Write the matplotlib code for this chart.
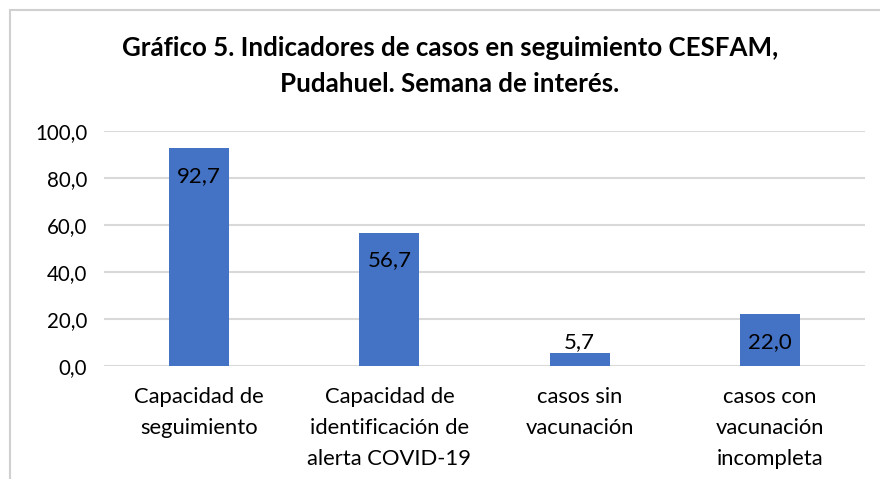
import matplotlib
matplotlib.use("Agg")
import matplotlib.pyplot as plt
from matplotlib.patches import Rectangle

categories = ["Capacidad de\nseguimiento",
              "Capacidad de\nidentificación de\nalerta COVID-19",
              "casos sin\nvacunación",
              "casos con\nvacunación\nincompleta"]
values = [92.7, 56.7, 5.7, 22.0]
yticks = [0, 20, 40, 60, 80, 100]
title = "Gráfico 5. Indicadores de casos en seguimiento CESFAM,\nPudahuel. Semana de interés."

plt.rcParams['font.family'] = ['Lato', 'DejaVu Sans']

fig = plt.figure(figsize=(8.8, 4.79), dpi=100)
ax = fig.add_axes([104/880, 1-366/479, (865-104)/880, (366-131)/479])

x = list(range(len(values)))
bars = ax.bar(x, values, width=0.316, color="#4472C4", zorder=3)

ax.set_xlim(-0.5, len(values)-0.5)
ax.set_ylim(0, 100)
ax.set_yticks(yticks)
ax.set_yticklabels([f"{v:.1f}".replace(".", ",") for v in yticks], fontsize=14.8, color="#000000")
ax.set_xticks(x)
ax.set_xticklabels(categories, fontsize=15.8, linespacing=1.7, va="top")
ax.tick_params(axis='both', length=0)
ax.tick_params(axis='x', pad=15)
ax.tick_params(axis='y', pad=12)
ax.grid(axis='y', color="#d9d9d9", linewidth=1.5, zorder=0)
for s in ax.spines.values():
    s.set_visible(False)

for xi, v in zip(x, values):
    lab = f"{v:.1f}".replace(".", ",")
    if v > 10:
        ax.annotate(lab, (xi, v), xytext=(0, -20), textcoords="offset points",
                    ha="center", va="center", fontsize=16, zorder=4)
    else:
        ax.annotate(lab, (xi, v), xytext=(0, 7.5), textcoords="offset points",
                    ha="center", va="center", fontsize=16, zorder=4)

fig.text(450/880, 1-66/479, title, ha="center", va="center", fontsize=18.6,
         fontweight="bold", linespacing=1.6)

fig.patches.append(Rectangle((10/880, -0.1), 1.1, 1-10/479+0.1, transform=fig.transFigure,
                             fill=False, edgecolor="#d0d0d0", linewidth=1.5))

fig.savefig("out.png", dpi=100)
